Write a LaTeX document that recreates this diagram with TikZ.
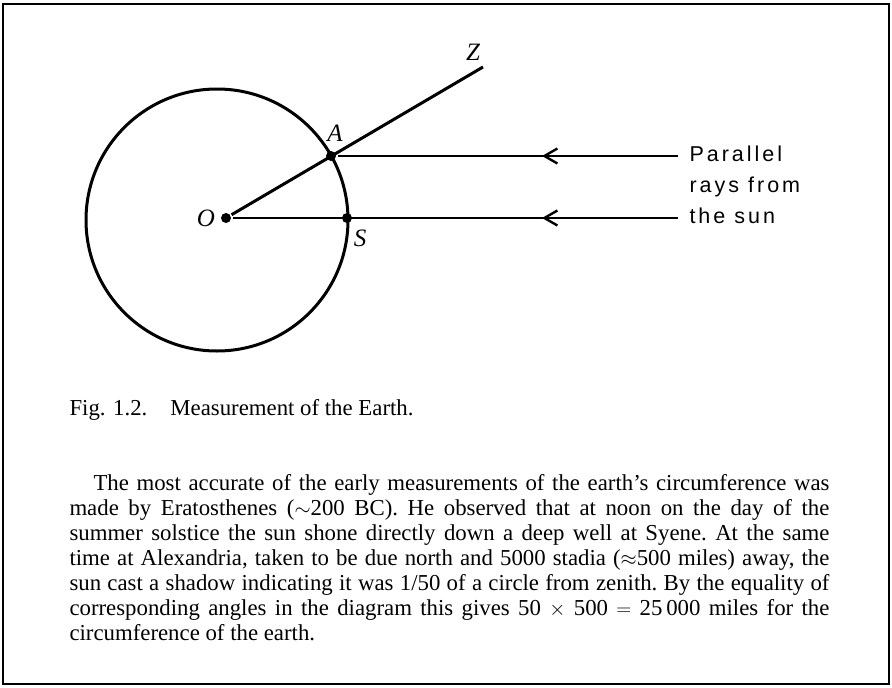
\documentclass[tikz,border=0pt]{standalone}
\usepackage{fontspec}
\setmainfont{Liberation Serif}
\newfontfamily\raysfont[LetterSpace=14]{Liberation Sans}
\usetikzlibrary{arrows.meta,decorations.markings}
\newcommand\jline[1]{\hbox to 760pt{#1}}
\begin{document}
\begin{tikzpicture}[x=1pt,y=-1pt,
  line width=3pt,
  dotnode/.style={circle,fill=black,inner sep=0,minimum size=10pt},
  ptlabel/.style={font=\fontsize{25}{25}\selectfont\itshape,inner sep=0},
  raylabel/.style={font=\fontsize{21.5}{21.5}\selectfont\raysfont,anchor=west,inner xsep=10pt,inner ysep=0pt,text height=15pt,text depth=5pt},
  sunray/.style={draw,line width=2.8pt,postaction={decorate},
    decoration={markings,mark=at position #1 with {\arrow{Straight Barb[length=13pt,width=15pt,line width=2.4pt]}}}},
  bodytext/.style={font=\fontsize{22.8}{25}\selectfont,inner sep=0pt}
]
\useasboundingbox (0,0) rectangle (892,688);
\draw[line width=2pt] (3,4) rectangle (889,684);

% earth
\node[circle,draw,line width=3pt,minimum size=262pt,inner sep=0] (earth) at (217,220) {};
\node[dotnode] (O) at (226,218) {};
\node[dotnode] (A) at (331,156) {};
\node[dotnode] (S) at (347,218) {};
\coordinate (Z) at (483,67);

\node[ptlabel] (Olab) at (206,218) {O};
\node[ptlabel] (Alab) at (335,133) {A};
\node[ptlabel] (Slab) at (360,238) {S};
\node[ptlabel] (Zlab) at (473,52) {Z};

\draw (O) -- (Z);

% rays
\node[raylabel] (par) at (678,156) {Parallel};
\node[raylabel] (rays) at (678,187) {rays from};
\node[raylabel] (sun) at (678,218) {the sun};
\draw[sunray=136pt] (par.west) -- (A);
\draw[sunray=136pt] (sun.west) -- (O);

% caption
\node[bodytext,anchor=base west] (cap) at (68,415) {Fig. 1.2.\hspace{23pt}Measurement of the Earth.};

\node[bodytext,anchor=north west] (body) at (68,471.5) {\vbox{\frenchspacing\hsize=760pt\baselineskip=25pt\hbadness=10000\hfuzz=50pt
\jline{\strut\hspace*{24pt}The most accurate of the early measurements of the earth’s circumference was}
\jline{made by Eratosthenes ($\sim$200 BC). He observed that at noon on the day of the}
\jline{summer solstice the sun shone directly down a deep well at Syene. At the same}
\jline{time at Alexandria, taken to be due north and 5000 stadia ($\approx$500 miles) away, the}
\jline{sun cast a shadow indicating it was 1/50 of a circle from zenith. By the equality of}
\jline{corresponding angles in the diagram this gives 50 $\times$ 500 $=$ 25\,000 miles for the}
\hbox{circumference of the earth.}}};
\end{tikzpicture}
\end{document}
